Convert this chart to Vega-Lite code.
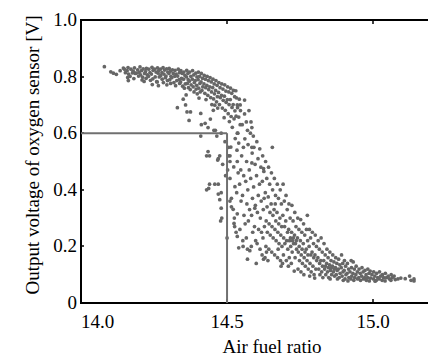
{
"$schema": "https://vega.github.io/schema/vega-lite/v6.json",
"width": 347, "height": 283,
"autosize": {"type": "none"},
"padding": {"left": 81, "top": 20, "right": 0, "bottom": 59},
"background": "white",
"config": {"view": {"stroke": null}, "font": "Liberation Serif",
 "axis": {"grid": false, "translate": 0, "domainColor": "#000000", "domainWidth": 2, "domainCap": "square", "tickColor": "#000000", "tickWidth": 1.5, "labelFont": "Liberation Serif", "labelFontSize": 19, "labelColor": "#000000", "titleFont": "Liberation Serif", "titleFontSize": 19, "titleFontWeight": "normal", "titleColor": "#000000"}},
"datasets": {
"guide": [{"x": 14.0, "x2": 14.5, "y": 0.6, "y2": 0.6}, {"x": 14.5, "x2": 14.5, "y": 0.0, "y2": 0.6}],
"pts": [
{"x":14.08,"y":0.835},{"x":14.102,"y":0.817},{"x":14.111,"y":0.812},{"x":14.121,"y":0.808},{"x":14.134,"y":0.821},{"x":14.145,"y":0.83},{"x":14.152,"y":0.814},{"x":14.149,"y":0.826},
{"x":14.161,"y":0.832},{"x":14.158,"y":0.821},{"x":14.163,"y":0.809},{"x":14.16,"y":0.797},{"x":14.162,"y":0.786},
{"x":14.171,"y":0.826},{"x":14.176,"y":0.813},{"x":14.168,"y":0.801},
{"x":14.183,"y":0.831},{"x":14.179,"y":0.819},{"x":14.186,"y":0.811},{"x":14.181,"y":0.793},
{"x":14.194,"y":0.824},{"x":14.189,"y":0.812},{"x":14.197,"y":0.802},
{"x":14.202,"y":0.834},{"x":14.207,"y":0.821},{"x":14.199,"y":0.815},{"x":14.204,"y":0.806},{"x":14.209,"y":0.788},
{"x":14.213,"y":0.827},{"x":14.218,"y":0.811},{"x":14.211,"y":0.798},{"x":14.216,"y":0.783},
{"x":14.224,"y":0.829},{"x":14.221,"y":0.818},{"x":14.227,"y":0.806},{"x":14.223,"y":0.794},
{"x":14.232,"y":0.826},{"x":14.236,"y":0.814},{"x":14.231,"y":0.801},{"x":14.238,"y":0.787},
{"x":14.243,"y":0.833},{"x":14.247,"y":0.822},{"x":14.241,"y":0.809},{"x":14.246,"y":0.792},{"x":14.244,"y":0.772},
{"x":14.252,"y":0.826},{"x":14.257,"y":0.816},{"x":14.254,"y":0.799},{"x":14.259,"y":0.782},
{"x":14.262,"y":0.831},{"x":14.266,"y":0.821},{"x":14.264,"y":0.812},{"x":14.268,"y":0.799},{"x":14.261,"y":0.781},{"x":14.265,"y":0.768},
{"x":14.272,"y":0.826},{"x":14.277,"y":0.814},{"x":14.273,"y":0.804},{"x":14.278,"y":0.791},
{"x":14.281,"y":0.832},{"x":14.286,"y":0.823},{"x":14.284,"y":0.809},{"x":14.289,"y":0.796},{"x":14.282,"y":0.779},
{"x":14.293,"y":0.827},{"x":14.297,"y":0.816},{"x":14.291,"y":0.802},{"x":14.296,"y":0.786},{"x":14.294,"y":0.771},
{"x":14.302,"y":0.829},{"x":14.306,"y":0.819},{"x":14.301,"y":0.811},{"x":14.308,"y":0.801},{"x":14.304,"y":0.789},{"x":14.307,"y":0.776},
{"x":14.313,"y":0.824},{"x":14.316,"y":0.811},{"x":14.311,"y":0.796},{"x":14.318,"y":0.779},
{"x":14.322,"y":0.822},{"x":14.326,"y":0.809},{"x":14.321,"y":0.801},{"x":14.328,"y":0.786},{"x":14.324,"y":0.768},
{"x":14.333,"y":0.826},{"x":14.337,"y":0.814},{"x":14.331,"y":0.802},{"x":14.336,"y":0.789},{"x":14.338,"y":0.776},{"x":14.33,"y":0.69},
{"x":14.342,"y":0.821},{"x":14.347,"y":0.811},{"x":14.344,"y":0.794},{"x":14.341,"y":0.781},{"x":14.348,"y":0.766},
{"x":14.352,"y":0.816},{"x":14.356,"y":0.804},{"x":14.351,"y":0.791},{"x":14.357,"y":0.774},{"x":14.354,"y":0.759},{"x":14.35,"y":0.72},
{"x":14.362,"y":0.822},{"x":14.366,"y":0.811},{"x":14.361,"y":0.799},{"x":14.367,"y":0.789},{"x":14.364,"y":0.776},{"x":14.368,"y":0.761},{"x":14.36,"y":0.735},{"x":14.358,"y":0.70},{"x":14.363,"y":0.675},
{"x":14.372,"y":0.816},{"x":14.376,"y":0.801},{"x":14.371,"y":0.784},{"x":14.377,"y":0.771},{"x":14.374,"y":0.754},{"x":14.37,"y":0.645},{"x":14.375,"y":0.675},
{"x":14.382,"y":0.821},{"x":14.386,"y":0.806},{"x":14.381,"y":0.791},{"x":14.388,"y":0.779},{"x":14.384,"y":0.764},{"x":14.387,"y":0.746},
{"x":14.393,"y":0.812},{"x":14.397,"y":0.799},{"x":14.391,"y":0.786},{"x":14.396,"y":0.769},{"x":14.394,"y":0.756},{"x":14.398,"y":0.739},
{"x":14.402,"y":0.816},{"x":14.406,"y":0.801},{"x":14.401,"y":0.789},{"x":14.407,"y":0.776},{"x":14.403,"y":0.759},{"x":14.408,"y":0.746},{"x":14.404,"y":0.724},
{"x":14.412,"y":0.811},{"x":14.416,"y":0.794},{"x":14.411,"y":0.781},{"x":14.417,"y":0.764},{"x":14.414,"y":0.751},{"x":14.41,"y":0.67},{"x":14.412,"y":0.63},{"x":14.41,"y":0.59},
{"x":14.422,"y":0.804},{"x":14.426,"y":0.791},{"x":14.421,"y":0.774},{"x":14.427,"y":0.761},{"x":14.424,"y":0.741},{"x":14.428,"y":0.719},{"x":14.425,"y":0.635},
{"x":14.432,"y":0.801},{"x":14.436,"y":0.786},{"x":14.431,"y":0.769},{"x":14.437,"y":0.754},{"x":14.434,"y":0.734},{"x":14.43,"y":0.52},{"x":14.43,"y":0.40},
{"x":14.435,"y":0.535},{"x":14.435,"y":0.62},{"x":14.437,"y":0.405},
{"x":14.442,"y":0.796},{"x":14.446,"y":0.781},{"x":14.441,"y":0.764},{"x":14.447,"y":0.746},{"x":14.444,"y":0.726},{"x":14.448,"y":0.701},{"x":14.443,"y":0.65},{"x":14.44,"y":0.52},{"x":14.44,"y":0.42},
{"x":14.452,"y":0.791},{"x":14.456,"y":0.774},{"x":14.451,"y":0.761},{"x":14.457,"y":0.739},{"x":14.454,"y":0.721},{"x":14.458,"y":0.699},{"x":14.453,"y":0.681},{"x":14.46,"y":0.61},
{"x":14.462,"y":0.786},{"x":14.466,"y":0.769},{"x":14.461,"y":0.751},{"x":14.467,"y":0.729},{"x":14.464,"y":0.711},{"x":14.468,"y":0.689},{"x":14.455,"y":0.61},{"x":14.458,"y":0.42},{"x":14.465,"y":0.59},
{"x":14.472,"y":0.779},{"x":14.476,"y":0.761},{"x":14.471,"y":0.744},{"x":14.477,"y":0.726},{"x":14.474,"y":0.701},{"x":14.47,"y":0.51},{"x":14.468,"y":0.505},{"x":14.47,"y":0.42},{"x":14.47,"y":0.385},
{"x":14.475,"y":0.52},{"x":14.475,"y":0.365},
{"x":14.482,"y":0.774},{"x":14.486,"y":0.756},{"x":14.481,"y":0.734},{"x":14.487,"y":0.716},{"x":14.484,"y":0.689},{"x":14.48,"y":0.60},{"x":14.485,"y":0.49},{"x":14.48,"y":0.39},{"x":14.48,"y":0.335},{"x":14.482,"y":0.30},{"x":14.478,"y":0.29},
{"x":14.492,"y":0.771},{"x":14.496,"y":0.749},{"x":14.491,"y":0.731},{"x":14.497,"y":0.709},{"x":14.494,"y":0.681},{"x":14.49,"y":0.655},{"x":14.493,"y":0.57},{"x":14.495,"y":0.45},
{"x":14.502,"y":0.764},{"x":14.506,"y":0.746},{"x":14.501,"y":0.719},{"x":14.507,"y":0.701},{"x":14.504,"y":0.669},{"x":14.508,"y":0.641},{"x":14.505,"y":0.55},{"x":14.505,"y":0.52},{"x":14.502,"y":0.47},{"x":14.5,"y":0.23},
{"x":14.512,"y":0.759},{"x":14.516,"y":0.741},{"x":14.511,"y":0.719},{"x":14.517,"y":0.691},{"x":14.514,"y":0.659},{"x":14.518,"y":0.621},{"x":14.513,"y":0.551},{"x":14.51,"y":0.52},{"x":14.51,"y":0.50},{"x":14.51,"y":0.44},{"x":14.51,"y":0.36},
{"x":14.515,"y":0.37},{"x":14.515,"y":0.34},
{"x":14.522,"y":0.751},{"x":14.526,"y":0.729},{"x":14.521,"y":0.701},{"x":14.527,"y":0.679},{"x":14.524,"y":0.651},{"x":14.528,"y":0.581},{"x":14.523,"y":0.481},{"x":14.527,"y":0.411},{"x":14.521,"y":0.331},{"x":14.524,"y":0.281},
{"x":14.525,"y":0.30},{"x":14.526,"y":0.27},
{"x":14.53,"y":0.75},{"x":14.532,"y":0.725},{"x":14.536,"y":0.69},{"x":14.531,"y":0.66},{"x":14.537,"y":0.60},{"x":14.534,"y":0.54},{"x":14.538,"y":0.46},{"x":14.533,"y":0.39},{"x":14.535,"y":0.315},{"x":14.531,"y":0.25},
{"x":14.535,"y":0.70},{"x":14.535,"y":0.60},{"x":14.535,"y":0.50},{"x":14.535,"y":0.235},
{"x":14.542,"y":0.72},{"x":14.546,"y":0.68},{"x":14.54,"y":0.657},{"x":14.54,"y":0.565},{"x":14.547,"y":0.47},{"x":14.543,"y":0.42},{"x":14.548,"y":0.36},{"x":14.544,"y":0.26},{"x":14.54,"y":0.195},
{"x":14.545,"y":0.70},{"x":14.545,"y":0.63},
{"x":14.56,"y":0.717},{"x":14.56,"y":0.668},{"x":14.552,"y":0.63},{"x":14.556,"y":0.55},{"x":14.55,"y":0.52},{"x":14.557,"y":0.45},{"x":14.553,"y":0.38},{"x":14.558,"y":0.31},{"x":14.554,"y":0.22},{"x":14.555,"y":0.20},
{"x":14.575,"y":0.68},{"x":14.566,"y":0.64},{"x":14.561,"y":0.58},{"x":14.567,"y":0.50},{"x":14.564,"y":0.43},{"x":14.568,"y":0.35},{"x":14.562,"y":0.28},{"x":14.566,"y":0.23},
{"x":14.57,"y":0.61},{"x":14.572,"y":0.56},{"x":14.576,"y":0.47},{"x":14.571,"y":0.40},{"x":14.577,"y":0.33},{"x":14.573,"y":0.29},{"x":14.57,"y":0.19},{"x":14.578,"y":0.185},{"x":14.57,"y":0.155},
{"x":14.582,"y":0.64},{"x":14.58,"y":0.60},{"x":14.586,"y":0.53},{"x":14.581,"y":0.44},{"x":14.587,"y":0.37},{"x":14.584,"y":0.31},{"x":14.588,"y":0.25},{"x":14.583,"y":0.20},
{"x":14.585,"y":0.62},{"x":14.585,"y":0.55},{"x":14.585,"y":0.495},
{"x":14.59,"y":0.59},{"x":14.592,"y":0.55},{"x":14.596,"y":0.49},{"x":14.591,"y":0.41},{"x":14.597,"y":0.345},{"x":14.594,"y":0.27},{"x":14.598,"y":0.22},
{"x":14.595,"y":0.335},
{"x":14.602,"y":0.57},{"x":14.606,"y":0.51},{"x":14.601,"y":0.45},{"x":14.607,"y":0.38},{"x":14.604,"y":0.32},{"x":14.608,"y":0.26},{"x":14.603,"y":0.21},{"x":14.6,"y":0.14},
{"x":14.612,"y":0.545},{"x":14.616,"y":0.48},{"x":14.611,"y":0.42},{"x":14.617,"y":0.36},{"x":14.614,"y":0.30},{"x":14.618,"y":0.25},{"x":14.613,"y":0.19},
{"x":14.622,"y":0.52},{"x":14.626,"y":0.465},{"x":14.621,"y":0.43},{"x":14.627,"y":0.37},{"x":14.624,"y":0.33},{"x":14.628,"y":0.27},{"x":14.623,"y":0.23},{"x":14.62,"y":0.17},
{"x":14.625,"y":0.475},{"x":14.625,"y":0.155},
{"x":14.632,"y":0.50},{"x":14.636,"y":0.44},{"x":14.631,"y":0.39},{"x":14.637,"y":0.34},{"x":14.634,"y":0.29},{"x":14.638,"y":0.25},{"x":14.633,"y":0.20},{"x":14.63,"y":0.16},
{"x":14.635,"y":0.18},
{"x":14.642,"y":0.48},{"x":14.646,"y":0.42},{"x":14.641,"y":0.375},{"x":14.647,"y":0.32},{"x":14.644,"y":0.28},{"x":14.648,"y":0.24},{"x":14.643,"y":0.19},{"x":14.64,"y":0.15},
{"x":14.655,"y":0.55},{"x":14.652,"y":0.46},{"x":14.656,"y":0.40},{"x":14.651,"y":0.35},{"x":14.657,"y":0.31},{"x":14.654,"y":0.27},{"x":14.658,"y":0.23},{"x":14.653,"y":0.18},
{"x":14.662,"y":0.44},{"x":14.666,"y":0.38},{"x":14.661,"y":0.33},{"x":14.667,"y":0.29},{"x":14.664,"y":0.26},{"x":14.668,"y":0.22},{"x":14.663,"y":0.17},
{"x":14.665,"y":0.35},
{"x":14.672,"y":0.42},{"x":14.676,"y":0.37},{"x":14.671,"y":0.32},{"x":14.677,"y":0.28},{"x":14.674,"y":0.25},{"x":14.678,"y":0.21},{"x":14.673,"y":0.16},
{"x":14.675,"y":0.19},
{"x":14.682,"y":0.40},{"x":14.686,"y":0.35},{"x":14.681,"y":0.30},{"x":14.687,"y":0.27},{"x":14.684,"y":0.24},{"x":14.688,"y":0.20},{"x":14.683,"y":0.15},
{"x":14.685,"y":0.13},
{"x":14.692,"y":0.42},{"x":14.696,"y":0.36},{"x":14.691,"y":0.31},{"x":14.697,"y":0.27},{"x":14.694,"y":0.23},{"x":14.698,"y":0.21},{"x":14.693,"y":0.17},{"x":14.69,"y":0.14},
{"x":14.702,"y":0.38},{"x":14.706,"y":0.33},{"x":14.701,"y":0.29},{"x":14.707,"y":0.25},{"x":14.704,"y":0.22},{"x":14.708,"y":0.19},{"x":14.703,"y":0.15},
{"x":14.712,"y":0.35},{"x":14.716,"y":0.30},{"x":14.711,"y":0.26},{"x":14.717,"y":0.23},{"x":14.714,"y":0.22},{"x":14.718,"y":0.20},{"x":14.713,"y":0.16},{"x":14.71,"y":0.13},
{"x":14.722,"y":0.345},{"x":14.726,"y":0.29},{"x":14.721,"y":0.25},{"x":14.727,"y":0.23},{"x":14.724,"y":0.22},{"x":14.728,"y":0.21},{"x":14.723,"y":0.18},{"x":14.72,"y":0.14},
{"x":14.732,"y":0.32},{"x":14.736,"y":0.27},{"x":14.731,"y":0.24},{"x":14.737,"y":0.22},{"x":14.734,"y":0.21},{"x":14.738,"y":0.19},{"x":14.733,"y":0.16},{"x":14.73,"y":0.113},
{"x":14.742,"y":0.30},{"x":14.746,"y":0.26},{"x":14.741,"y":0.23},{"x":14.747,"y":0.20},{"x":14.744,"y":0.18},{"x":14.748,"y":0.15},{"x":14.743,"y":0.12},
{"x":14.752,"y":0.295},{"x":14.756,"y":0.25},{"x":14.751,"y":0.22},{"x":14.757,"y":0.19},{"x":14.754,"y":0.17},{"x":14.758,"y":0.14},{"x":14.753,"y":0.11},
{"x":14.762,"y":0.28},{"x":14.766,"y":0.24},{"x":14.761,"y":0.21},{"x":14.767,"y":0.18},{"x":14.764,"y":0.16},{"x":14.768,"y":0.13},{"x":14.763,"y":0.10},
{"x":14.775,"y":0.31},{"x":14.772,"y":0.26},{"x":14.776,"y":0.22},{"x":14.771,"y":0.19},{"x":14.777,"y":0.17},{"x":14.774,"y":0.15},{"x":14.778,"y":0.12},
{"x":14.782,"y":0.26},{"x":14.786,"y":0.23},{"x":14.781,"y":0.20},{"x":14.787,"y":0.17},{"x":14.784,"y":0.14},{"x":14.788,"y":0.11},{"x":14.783,"y":0.095},
{"x":14.792,"y":0.25},{"x":14.796,"y":0.21},{"x":14.791,"y":0.18},{"x":14.797,"y":0.16},{"x":14.794,"y":0.13},{"x":14.798,"y":0.10},
{"x":14.802,"y":0.24},{"x":14.806,"y":0.20},{"x":14.801,"y":0.17},{"x":14.807,"y":0.15},{"x":14.804,"y":0.12},{"x":14.8,"y":0.088},
{"x":14.812,"y":0.22},{"x":14.816,"y":0.19},{"x":14.811,"y":0.16},{"x":14.817,"y":0.14},{"x":14.814,"y":0.12},{"x":14.818,"y":0.10},
{"x":14.822,"y":0.23},{"x":14.826,"y":0.18},{"x":14.821,"y":0.15},{"x":14.827,"y":0.13},{"x":14.824,"y":0.11},{"x":14.828,"y":0.09},
{"x":14.832,"y":0.21},{"x":14.836,"y":0.17},{"x":14.831,"y":0.15},{"x":14.837,"y":0.13},{"x":14.834,"y":0.12},{"x":14.838,"y":0.10},
{"x":14.842,"y":0.19},{"x":14.846,"y":0.16},{"x":14.841,"y":0.14},{"x":14.847,"y":0.125},{"x":14.844,"y":0.11},{"x":14.848,"y":0.09},
{"x":14.852,"y":0.18},{"x":14.856,"y":0.15},{"x":14.851,"y":0.135},{"x":14.857,"y":0.125},{"x":14.854,"y":0.115},{"x":14.858,"y":0.10},{"x":14.853,"y":0.085},
{"x":14.862,"y":0.17},{"x":14.866,"y":0.145},{"x":14.861,"y":0.13},{"x":14.867,"y":0.12},{"x":14.864,"y":0.11},{"x":14.868,"y":0.095},
{"x":14.872,"y":0.16},{"x":14.876,"y":0.14},{"x":14.871,"y":0.125},{"x":14.877,"y":0.115},{"x":14.874,"y":0.10},{"x":14.878,"y":0.085},
{"x":14.882,"y":0.155},{"x":14.886,"y":0.135},{"x":14.881,"y":0.12},{"x":14.887,"y":0.105},{"x":14.884,"y":0.09},
{"x":14.892,"y":0.17},{"x":14.896,"y":0.14},{"x":14.891,"y":0.125},{"x":14.897,"y":0.11},{"x":14.894,"y":0.095},{"x":14.898,"y":0.08},
{"x":14.902,"y":0.15},{"x":14.906,"y":0.13},{"x":14.901,"y":0.115},{"x":14.907,"y":0.10},{"x":14.904,"y":0.085},
{"x":14.912,"y":0.14},{"x":14.916,"y":0.12},{"x":14.911,"y":0.105},{"x":14.917,"y":0.09},{"x":14.914,"y":0.078},
{"x":14.925,"y":0.15},{"x":14.926,"y":0.125},{"x":14.921,"y":0.11},{"x":14.927,"y":0.095},{"x":14.924,"y":0.085},
{"x":14.932,"y":0.145},{"x":14.936,"y":0.12},{"x":14.931,"y":0.105},{"x":14.937,"y":0.09},{"x":14.934,"y":0.08},
{"x":14.942,"y":0.13},{"x":14.946,"y":0.11},{"x":14.941,"y":0.10},{"x":14.947,"y":0.085},
{"x":14.952,"y":0.12},{"x":14.956,"y":0.105},{"x":14.951,"y":0.09},{"x":14.957,"y":0.08},
{"x":14.962,"y":0.125},{"x":14.966,"y":0.11},{"x":14.961,"y":0.095},{"x":14.967,"y":0.085},
{"x":14.972,"y":0.115},{"x":14.976,"y":0.10},{"x":14.971,"y":0.09},{"x":14.977,"y":0.08},
{"x":14.982,"y":0.12},{"x":14.986,"y":0.105},{"x":14.981,"y":0.09},{"x":14.987,"y":0.078},
{"x":14.99,"y":0.113},{"x":14.996,"y":0.10},{"x":14.991,"y":0.088},
{"x":15.002,"y":0.11},{"x":15.006,"y":0.095},{"x":15.001,"y":0.085},{"x":15.007,"y":0.077},
{"x":15.012,"y":0.105},{"x":15.016,"y":0.09},{"x":15.011,"y":0.08},
{"x":15.022,"y":0.11},{"x":15.026,"y":0.095},{"x":15.021,"y":0.085},
{"x":15.032,"y":0.10},{"x":15.036,"y":0.09},{"x":15.031,"y":0.08},
{"x":15.042,"y":0.105},{"x":15.046,"y":0.09},{"x":15.041,"y":0.078},
{"x":15.052,"y":0.095},{"x":15.056,"y":0.085},
{"x":15.062,"y":0.10},{"x":15.066,"y":0.09},{"x":15.061,"y":0.08},
{"x":15.072,"y":0.095},{"x":15.076,"y":0.083},
{"x":15.085,"y":0.085},{"x":15.095,"y":0.088},{"x":15.11,"y":0.086},
{"x":15.125,"y":0.095},{"x":15.13,"y":0.08},{"x":15.14,"y":0.085},{"x":15.14,"y":0.078}
]},
"layer": [
{"data": {"name": "pts"},
 "mark": {"type": "circle", "size": 14, "color": "#666666", "opacity": 1},
 "encoding": {
  "x": {"field": "x", "type": "quantitative", "scale": {"domain": [14, 15.188], "nice": false, "zero": false},
   "axis": {"orient": "bottom", "values": [14, 14.5, 15], "labelExpr": "format(datum.value, '.1f')", "domainColor": "#000000", "tickSize": -4, "labelPadding": 14, "title": "Air fuel ratio", "titlePadding": 6, "titleX": 191}},
  "y": {"field": "y", "type": "quantitative", "scale": {"domain": [0, 1], "nice": false},
   "axis": {"orient": "left", "values": [0, 0.2, 0.4, 0.6, 0.8, 1.0], "labelExpr": "datum.value == 0 ? '0' : format(datum.value, '.1f')", "domainColor": "#000000", "tickSize": -3, "labelPadding": 7, "title": "Output voltage of oxygen sensor [V]", "titlePadding": 10, "titleY": 135}}
 }},
{"data": {"name": "guide"},
 "mark": {"type": "rule", "color": "#707070", "strokeWidth": 2},
 "encoding": {
  "x": {"field": "x", "type": "quantitative", "scale": {"domain": [14, 15.188], "nice": false, "zero": false},
   "axis": {"orient": "top", "values": [14.5, 15], "labels": false, "domainColor": "#000000", "tickSize": -4, "title": null}},
  "x2": {"field": "x2"},
  "y": {"field": "y", "type": "quantitative", "scale": {"domain": [0, 1], "nice": false}, "axis": null},
  "y2": {"field": "y2"}
 }}
],
"resolve": {"axis": {"x": "independent", "y": "independent"}}
}
